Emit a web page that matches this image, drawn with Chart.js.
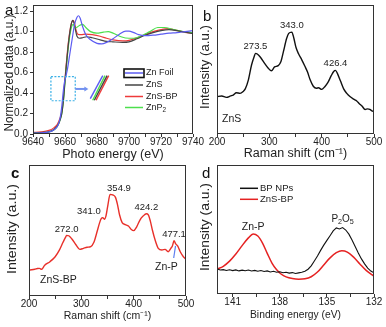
<!DOCTYPE html>
<html>
<head>
<meta charset="utf-8">
<title>Zn K-edge XANES, Raman and XPS</title>
<script src="https://cdn.jsdelivr.net/npm/chart.js"></script>
<style>
  body { margin: 0; background: #fff; }
  #figura { position: relative; width: 386px; height: 327px; overflow: hidden; background: #fff; }
  canvas { position: absolute; }
</style>
</head>
<body>
<div id="figura">
  <canvas id="graficoA" width="215" height="165" style="left:0;top:0"></canvas>
  <canvas id="graficoB" width="196" height="165" style="left:190px;top:0"></canvas>
  <canvas id="graficoC" width="200" height="164" style="left:0;top:163px"></canvas>
  <canvas id="graficoD" width="196" height="164" style="left:190px;top:163px"></canvas>
</div>
<script>
// ---- a: XANES Zn K-edge ----
var foilE  = [9640, 9645, 9650, 9653, 9655, 9656, 9657, 9658, 9658.8, 9659.6, 9660.5, 9661.5, 9663, 9664.5, 9666, 9667.5, 9668.5, 9669.5, 9671, 9673, 9676, 9680, 9683, 9686, 9690, 9694, 9698, 9700, 9703, 9706, 9710, 9715, 9720, 9725, 9730, 9735, 9740];
var foilMu = [0.008, 0.012, 0.02, 0.04, 0.07, 0.1, 0.16, 0.27, 0.4, 0.5, 0.56, 0.63, 0.78, 0.93, 1.07, 1.14, 1.155, 1.13, 1.05, 0.97, 0.92, 0.885, 0.88, 0.895, 0.93, 0.975, 1.005, 1.005, 0.99, 0.97, 0.96, 0.965, 0.975, 0.985, 0.99, 1.0, 1.01];

var znsE  = [9640, 9645, 9650, 9653, 9655, 9656, 9657, 9658, 9659, 9660, 9661, 9662, 9663, 9664, 9664.7, 9665.5, 9666.5, 9667.5, 9669, 9671, 9673.5, 9677, 9682, 9686, 9690, 9696, 9700, 9705, 9710, 9715, 9720, 9725, 9730, 9735, 9740];
var znsMu = [0.01, 0.014, 0.022, 0.045, 0.075, 0.1, 0.14, 0.2, 0.33, 0.52, 0.7, 0.86, 0.99, 1.08, 1.11, 1.09, 1.02, 0.955, 0.935, 0.94, 0.95, 0.94, 0.92, 0.905, 0.9, 0.895, 0.9, 0.93, 0.965, 0.99, 1.01, 1.02, 1.01, 0.995, 0.98];

var znsBpE  = [9640, 9645, 9650, 9653, 9655, 9656, 9657, 9658, 9659, 9660, 9661, 9662, 9663, 9664, 9665, 9666, 9667, 9668, 9670, 9673, 9677, 9682, 9686, 9690, 9696, 9700, 9705, 9710, 9715, 9720, 9724, 9728, 9733, 9740];
var znsBpMu = [0.015, 0.02, 0.035, 0.06, 0.09, 0.12, 0.16, 0.22, 0.35, 0.54, 0.72, 0.88, 1.0, 1.08, 1.11, 1.08, 1.01, 0.975, 0.97, 0.975, 0.97, 0.955, 0.935, 0.92, 0.91, 0.915, 0.94, 0.97, 1.0, 1.02, 1.03, 1.02, 1.0, 0.98];

var znp2E  = [9640, 9645, 9650, 9653, 9655, 9656, 9657, 9658, 9659, 9660, 9661, 9662, 9663, 9664, 9665, 9666, 9667, 9669, 9671, 9673, 9676, 9680, 9684, 9687, 9690, 9695, 9700, 9703, 9708, 9713, 9718, 9722, 9728, 9734, 9740];
var znp2Mu = [0.01, 0.013, 0.02, 0.04, 0.07, 0.1, 0.14, 0.2, 0.32, 0.5, 0.68, 0.84, 0.96, 1.04, 1.07, 1.05, 1.04, 1.06, 1.07, 1.04, 1.0, 0.985, 0.995, 1.0, 0.985, 0.95, 0.935, 0.935, 0.96, 1.0, 1.04, 1.04, 1.02, 1.0, 0.99];

// magnified edge segments next to the dashed box
var insetFoilE = [9675.8, 9683.6], insetFoilMu = [0.345, 0.57];
var insetZnp2E = [9677.3, 9685.0], insetZnp2Mu = [0.33, 0.57];
var insetZnsE  = [9678.3, 9686.3], insetZnsMu  = [0.33, 0.57];
var insetBpE   = [9679.4, 9687.3], insetBpMu   = [0.33, 0.57];

var nomiA = ['Zn Foil', 'ZnS', 'ZnS-BP', 'ZnP_2'];

// ---- b: Raman ZnS ----
var ramanZnsX = [200, 209, 218, 226, 231, 237, 244, 250, 254, 260, 266, 271, 273.5, 277, 283, 291, 298, 304, 310, 317, 322, 327, 333, 337, 343, 347, 351, 356, 362, 368, 373, 378, 384, 390, 394, 400, 406, 412, 418, 423, 426.4, 430, 436, 442, 448, 454, 461, 467, 472, 477, 483, 488, 492, 496, 500];
var ramanZnsY = [28.9, 29.5, 28.4, 29.5, 30.2, 32.0, 31.5, 33, 35, 42, 53.5, 60, 62.5, 62, 59.5, 54.8, 51, 49, 52, 53, 56, 64, 74, 78, 79, 74, 67, 62, 57.5, 52.5, 48, 42, 37, 35.5, 35.8, 34.6, 36.7, 40, 45, 48.5, 49.3, 47, 41, 35, 31.5, 29, 27, 25.6, 23.5, 21.7, 19, 19.5, 19.1, 18, 17.3];
var piccoZns = [273.5, 343.0, 426.4];

// ---- c: Raman ZnS-BP ----
var ramanBpX = [200, 205, 211, 216, 220, 224, 230, 240, 250, 258, 265, 270, 272, 276, 282, 290, 297, 304, 311, 318, 324, 330, 335, 338, 341, 344, 347, 351, 354.9, 360, 365, 369, 373, 378, 384, 390, 395, 400, 406, 412, 418, 424.2, 428, 432, 436, 441, 447, 454, 460, 466, 471, 474, 477.1, 480, 484, 489, 495, 500];
var ramanBpY = [19.8, 20, 20.4, 21, 21.1, 20.4, 23.5, 26.2, 30, 35, 41, 45, 46.3, 46, 43.5, 38.9, 35.6, 36.4, 37.2, 37.7, 41, 49, 56, 59, 59.8, 58.6, 61, 70, 77.6, 77.2, 75.5, 70, 62, 56, 54.5, 53.4, 51, 49.9, 53, 58, 61, 62.8, 62, 57, 50, 42.7, 36.4, 35.1, 35.6, 33.8, 36.4, 38.2, 42.2, 40, 38.2, 33.8, 30, 28];
var piccoBp = [272.0, 341.0, 354.9, 424.2, 477.1];

// ---- d: XPS P 2p ----
var xpsBpE = [142.0, 141.8, 141.6, 141.4, 141.2, 141.0, 140.8, 140.6, 140.4, 140.2, 140.0, 139.8, 139.6, 139.4, 139.2, 139.0, 138.8, 138.6, 138.4, 138.2, 138.0, 137.8, 137.6, 137.4, 137.2, 137.0, 136.8, 136.6, 136.4, 136.2, 136.0, 135.8, 135.6, 135.4, 135.2, 135.0, 134.8, 134.6, 134.4, 134.2, 134.0, 133.8, 133.6, 133.4, 133.2, 133.0, 132.8, 132.6, 132.4, 132.2, 132.0];
var xpsBpY = [19.5, 18.6, 18.9, 18.2, 18.8, 18.1, 18.7, 17.9, 18.5, 18.0, 18.6, 17.8, 18.3, 17.6, 18.2, 17.5, 17.9, 17.1, 17.6, 16.9, 17.2, 16.5, 16.9, 16.2, 16.6, 15.9, 16.4, 16.8, 17.6, 19.2, 21.8, 25.6, 29.4, 33.8, 37.9, 41.6, 45.2, 48.9, 51.2, 50.4, 51.5, 49.6, 46.4, 41.8, 36.9, 31.8, 27.2, 23.4, 20.1, 17.8, 16.4];

var xpsZnsBpE = [142.0, 141.6, 141.2, 140.8, 140.4, 140.0, 139.7, 139.4, 139.1, 138.8, 138.5, 138.2, 137.9, 137.6, 137.2, 136.8, 136.4, 136.0, 135.6, 135.2, 134.8, 134.4, 134.05, 133.7, 133.3, 132.9, 132.5, 132.0];
var xpsZnsBpY = [19.3, 21.5, 25.5, 31.0, 37.5, 43.5, 46.6, 45.0, 39.5, 31.5, 24.0, 18.8, 15.3, 13.3, 12.0, 11.5, 11.8, 13.4, 17.0, 22.5, 28.0, 32.0, 33.5, 32.5, 28.6, 23.3, 18.3, 13.7];

var tickXps = [132, 135, 138, 141];
var tickXpsMinori = [133.5, 136.5, 139.5];
var nomiD = ['BP NPs', 'ZnS-BP'];

// ------------------------------------------------------------------
var FONT = '"Liberation Sans", Arial, Helvetica, sans-serif';
Chart.defaults.font.family = FONT;
Chart.defaults.color = '#222';

var BLU = '#5c5cf2', GRIGIO = '#444', ROSSO = '#ee3a3a', VERDE = '#4ddf4d';

function punti(xs, ys) {
    var out = [];
    for (var i = 0; i < xs.length; i++) {
        out.push({x: xs[i], y: ys[i]});
    }
    return out;
}

function serie(xs, ys, colore, spessore, liscia) {
    return {
        data: punti(xs, ys),
        borderColor: colore,
        borderWidth: spessore,
        pointRadius: 0,
        fill: false,
        cubicInterpolationMode: liscia ? 'monotone' : 'default',
        tension: 0
    };
}

// fixed axis sizes so every plot area lands where it should
function fissa(larghezza, altezza) {
    return function(scala) {
        if (larghezza !== null) scala.width = larghezza;
        if (altezza !== null) scala.height = altezza;
        scala.paddingLeft = 0;
        scala.paddingRight = 0;
        scala.paddingTop = 0;
        scala.paddingBottom = 0;
    };
}

// text with '_x' written as subscript x
function scriviFormula(ctx, testo, x, y, size, allinea) {
    var pezzi = [];
    for (var i = 0; i < testo.length; i++) {
        if (testo[i] === '_') {
            pezzi.push({t: testo[i + 1], sub: true});
            i++;
        } else {
            pezzi.push({t: testo[i], sub: false});
        }
    }
    var larg = 0;
    pezzi.forEach(function(p) {
        ctx.font = (p.sub ? size * 0.72 : size) + 'px ' + FONT;
        p.w = ctx.measureText(p.t).width;
        larg += p.w;
    });
    var cx = x;
    if (allinea === 'center') cx = x - larg / 2;
    if (allinea === 'right') cx = x - larg;
    ctx.textAlign = 'left';
    pezzi.forEach(function(p) {
        ctx.font = (p.sub ? size * 0.72 : size) + 'px ' + FONT;
        ctx.fillText(p.t, cx, p.sub ? y + size * 0.28 : y);
        cx += p.w;
    });
}

// frame, panel letter and the rotated y title (stretched to a given length)
function cornice(lettera, lx, ly, grassetto, titoloY) {
    return {
        id: 'cornice',
        afterDraw: function(chart) {
            var ctx = chart.ctx, a = chart.chartArea;
            ctx.save();
            ctx.strokeStyle = '#333';
            ctx.lineWidth = 1;
            ctx.strokeRect(Math.round(a.left) + 0.5, Math.round(a.top) + 0.5,
                Math.round(a.right - a.left) - 1, Math.round(a.bottom - a.top) - 1);
            ctx.fillStyle = '#111';
            ctx.font = (grassetto ? 'bold ' : '') + '15px ' + FONT;
            ctx.textAlign = 'left';
            ctx.textBaseline = 'alphabetic';
            ctx.fillText(lettera, lx, ly);

            ctx.fillStyle = '#222';
            ctx.font = titoloY.size + 'px ' + FONT;
            var w = ctx.measureText(titoloY.testo).width;
            ctx.translate(titoloY.x, titoloY.y);
            ctx.rotate(-Math.PI / 2);
            ctx.scale(titoloY.lunghezza / w, 1);
            ctx.textAlign = 'center';
            ctx.textBaseline = 'middle';
            ctx.fillText(titoloY.testo, 0, 0);
            ctx.restore();
        }
    };
}

function asseX(min, max, passo, ogni, titolo, sizeTitolo, padTitolo, altezza) {
    return {
        type: 'linear', min: min, max: max,
        ticks: {
            stepSize: passo, autoSkip: false, maxRotation: 0, padding: -1,
            font: {size: 10}, color: '#222', includeBounds: false,
            callback: function(v) { return Math.abs(v % ogni) < 1e-6 ? v : ''; }
        },
        grid: {drawOnChartArea: false, drawTicks: true, tickLength: 3, tickColor: '#333'},
        border: {display: false},
        title: {display: true, text: titolo, font: {size: sizeTitolo}, color: '#222', padding: {top: 0, bottom: padTitolo}},
        afterFit: fissa(null, altezza)
    };
}

function asseYVuoto(larghezza) {
    return {
        min: 0, max: 100,
        ticks: {display: false},
        grid: {display: false},
        border: {display: false},
        afterFit: fissa(larghezza, null)
    };
}

function opzioniBase(padding, scales) {
    return {
        responsive: false,
        animation: false,
        events: [],
        layout: {padding: padding},
        plugins: {legend: {display: false}, tooltip: {enabled: false}},
        scales: scales
    };
}

// peak positions written over the curve
function etichettePicchi(xs, ys, picchi, allineamenti, distanza) {
    return {
        id: 'picchi',
        afterDatasetsDraw: function(chart) {
            var ctx = chart.ctx, sx = chart.scales.x, sy = chart.scales.y;
            ctx.save();
            ctx.fillStyle = '#222';
            ctx.font = '9.5px ' + FONT;
            ctx.textBaseline = 'alphabetic';
            picchi.forEach(function(p) {
                var i = xs.indexOf(p);
                var px = sx.getPixelForValue(p), py = sy.getPixelForValue(ys[i]);
                var al = allineamenti[p] || 'center';
                ctx.textAlign = al;
                var dx = al === 'right' ? -2 : (al === 'left' ? -3 : 0);
                ctx.fillText(p.toFixed(1), px + dx, py - distanza);
            });
            ctx.restore();
        }
    };
}

// ---- a ----
var annotazioniA = {
    id: 'annotazioniA',
    afterDatasetsDraw: function(chart) {
        var ctx = chart.ctx, sx = chart.scales.x, sy = chart.scales.y;
        ctx.save();
        // dashed box around the edge
        var x0 = sx.getPixelForValue(9651.2), x1 = sx.getPixelForValue(9666.4);
        var y0 = sy.getPixelForValue(0.56), y1 = sy.getPixelForValue(0.325);
        ctx.setLineDash([2, 1.5]);
        ctx.strokeStyle = '#3ab0e6';
        ctx.lineWidth = 1.2;
        ctx.strokeRect(x0, y0, x1 - x0, y1 - y0);
        ctx.setLineDash([]);
        // arrow to the magnified segments
        var ya = sy.getPixelForValue(0.44), xb = sx.getPixelForValue(9674.6);
        ctx.strokeStyle = '#7392f0';
        ctx.fillStyle = '#7392f0';
        ctx.lineWidth = 2;
        ctx.beginPath();
        ctx.moveTo(x1, ya);
        ctx.lineTo(xb - 3, ya);
        ctx.stroke();
        ctx.beginPath();
        ctx.moveTo(xb, ya);
        ctx.lineTo(xb - 4, ya - 2.5);
        ctx.lineTo(xb - 4, ya + 2.5);
        ctx.closePath();
        ctx.fill();

        // legend
        var colori = [BLU, GRIGIO, ROSSO, VERDE];
        var righe = [73, 85, 96.5, 107.5];
        for (var i = 0; i < nomiA.length; i++) {
            ctx.strokeStyle = colori[i];
            ctx.lineWidth = 1.5;
            ctx.beginPath();
            ctx.moveTo(125, righe[i]);
            ctx.lineTo(143, righe[i]);
            ctx.stroke();
            ctx.fillStyle = '#222';
            ctx.textBaseline = 'middle';
            scriviFormula(ctx, nomiA[i], 146, righe[i], 9, 'left');
        }
        ctx.strokeStyle = '#111';
        ctx.lineWidth = 1.6;
        ctx.strokeRect(124, 69, 20, 8.5);
        ctx.restore();
    }
};

new Chart(document.getElementById('graficoA'), {
    type: 'line',
    data: {
        datasets: [
            serie(foilE, foilMu, BLU, 1.2, true),
            serie(znsE, znsMu, GRIGIO, 1.2, true),
            serie(znp2E, znp2Mu, VERDE, 1.2, true),
            serie(znsBpE, znsBpMu, ROSSO, 1.2, true),
            serie(insetFoilE, insetFoilMu, BLU, 1.4, false),
            serie(insetZnp2E, insetZnp2Mu, VERDE, 1.4, false),
            serie(insetZnsE, insetZnsMu, GRIGIO, 1.4, false),
            serie(insetBpE, insetBpMu, ROSSO, 1.4, false)
        ]
    },
    options: opzioniBase({top: 5, right: 22, left: 0, bottom: 0}, {
        x: asseX(9640, 9740, 10, 20, 'Photo energy (eV)', 12.5, 2.5, 31),
        y: {
            min: 0, max: 1.26,
            ticks: {
                stepSize: 0.2, includeBounds: false, padding: 2, font: {size: 10}, color: '#222',
                callback: function(v) { return v.toFixed(1); }
            },
            grid: {drawOnChartArea: false, drawTicks: true, tickLength: 3, tickColor: '#333'},
            border: {display: false},
            afterFit: fissa(33, null)
        }
    }),
    plugins: [cornice('a', 5, 15, false, {testo: 'Normalized data (a.u.)', size: 12, x: 10, y: 73, lunghezza: 117}), annotazioniA]
});

// ---- b ----
var testoB = {
    id: 'testoB',
    afterDraw: function(chart) {
        var ctx = chart.ctx;
        ctx.save();
        ctx.fillStyle = '#222';
        ctx.font = '10.5px ' + FONT;
        ctx.textAlign = 'left';
        ctx.textBaseline = 'alphabetic';
        ctx.fillText('ZnS', 32, 122);
        ctx.restore();
    }
};

new Chart(document.getElementById('graficoB'), {
    type: 'line',
    data: {datasets: [serie(ramanZnsX, ramanZnsY, '#111', 1.4, true)]},
    options: opzioniBase({top: 5, right: 12, left: 0, bottom: 0}, {
        x: asseX(200, 500, 50, 100, 'Raman shift (cm\u207B\u00B9)', 12.5, 4.2, 31),
        y: asseYVuoto(27)
    }),
    plugins: [cornice('b', 13, 21, false, {testo: 'Intensity (a.u.)', size: 12, x: 16, y: 67, lunghezza: 84}),
        etichettePicchi(ramanZnsX, ramanZnsY, piccoZns, {}, 4), testoB]
});

// ---- c ----
var testoC = {
    id: 'testoC',
    afterDatasetsDraw: function(chart) {
        var ctx = chart.ctx, sx = chart.scales.x, sy = chart.scales.y;
        ctx.save();
        ctx.fillStyle = '#222';
        ctx.font = '10.5px ' + FONT;
        ctx.textAlign = 'left';
        ctx.textBaseline = 'alphabetic';
        ctx.fillText('ZnS-BP', 40, 120);
        // Zn-P pointer under the 477.1 band
        ctx.strokeStyle = '#5d7ff0';
        ctx.lineWidth = 1.2;
        ctx.beginPath();
        ctx.moveTo(sx.getPixelForValue(476.5), sy.getPixelForValue(29));
        ctx.lineTo(sx.getPixelForValue(480), sy.getPixelForValue(38.2));
        ctx.stroke();
        ctx.textAlign = 'center';
        ctx.fillText('Zn-P', sx.getPixelForValue(462.7), sy.getPixelForValue(19.8));
        ctx.restore();
    }
};

new Chart(document.getElementById('graficoC'), {
    type: 'line',
    data: {datasets: [serie(ramanBpX, ramanBpY, '#e8302a', 1.4, true)]},
    options: opzioniBase({top: 2, right: 14, left: 0, bottom: 0}, {
        x: asseX(200, 500, 50, 100, 'Raman shift (cm\u207B\u00B9)', 10.5, 5, 31),
        y: asseYVuoto(29)
    }),
    plugins: [cornice('c', 11, 15, true, {testo: 'Intensity (a.u.)', size: 12, x: 12.5, y: 66, lunghezza: 90}),
        etichettePicchi(ramanBpX, ramanBpY, piccoBp, {'341': 'right', '354.9': 'left'}, 3.5), testoC]
});

// ---- d ----
var testoD = {
    id: 'testoD',
    afterDatasetsDraw: function(chart) {
        var ctx = chart.ctx, sx = chart.scales.x, sy = chart.scales.y;
        ctx.save();
        // legend
        var colori = ['#111', '#e52222'];
        var righe = [25.3, 36.3];
        for (var i = 0; i < nomiD.length; i++) {
            ctx.strokeStyle = colori[i];
            ctx.lineWidth = 1.5;
            ctx.beginPath();
            ctx.moveTo(50, righe[i]);
            ctx.lineTo(68, righe[i]);
            ctx.stroke();
            ctx.fillStyle = '#222';
            ctx.textBaseline = 'middle';
            scriviFormula(ctx, nomiD[i], 70, righe[i], 9.5, 'left');
        }
        // peak names
        ctx.textBaseline = 'alphabetic';
        var iZn = xpsZnsBpY.indexOf(Math.max.apply(null, xpsZnsBpY));
        scriviFormula(ctx, 'Zn-P', sx.getPixelForValue(xpsZnsBpE[iZn]), sy.getPixelForValue(xpsZnsBpY[iZn]) - 4, 10.5, 'center');
        var iP = xpsBpY.indexOf(Math.max.apply(null, xpsBpY));
        scriviFormula(ctx, 'P_2O_5', sx.getPixelForValue(xpsBpE[iP]), sy.getPixelForValue(xpsBpY[iP]) - 6, 10, 'center');
        ctx.restore();
    }
};

var assePerD = asseX(132, 142, 1, 3, 'Binding energy (eV)', 10.3, 5.8, 33);
assePerD.reverse = true;
assePerD.ticks.callback = function(v) { return tickXps.indexOf(v) >= 0 ? v : ''; };
assePerD.afterBuildTicks = function(scala) {
    scala.ticks = tickXps.concat(tickXpsMinori).sort(function(a, b) { return a - b; })
        .map(function(v) { return {value: v}; });
};

new Chart(document.getElementById('graficoD'), {
    type: 'line',
    data: {
        datasets: [
            serie(xpsBpE, xpsBpY, '#111', 1.1, false),
            serie(xpsZnsBpE, xpsZnsBpY, '#e52222', 1.5, true)
        ]
    },
    options: opzioniBase({top: 2, right: 12, left: 0, bottom: 0}, {
        x: assePerD,
        y: asseYVuoto(27)
    }),
    plugins: [cornice('d', 12, 15, false, {testo: 'Intensity (a.u.)', size: 12, x: 16, y: 64, lunghezza: 88}), testoD]
});
</script>
</body>
</html>
